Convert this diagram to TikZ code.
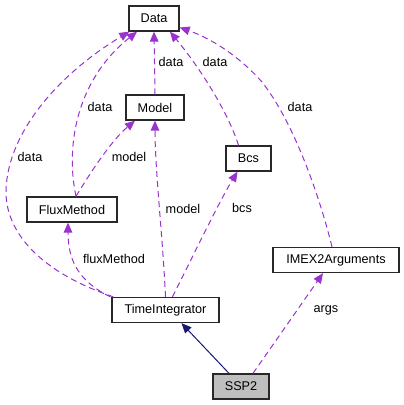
\documentclass[tikz,border=0pt]{standalone}
\usepackage{fontspec}
\setmainfont{Liberation Sans}
\usetikzlibrary{arrows.meta,calc}

\definecolor{relpurple}{RGB}{154,50,205}
\definecolor{inhnavy}{RGB}{25,25,112}

\tikzset{every picture/.style={line width=0.75pt}}
\tikzset{
  cls/.style={draw={rgb,255:red,40;green,40;blue,40}, fill=white, line width=1pt, inner sep=0pt,
    minimum height=18.75pt, font=\fontsize{9.5}{11}\selectfont},
  rel/.style={draw=relpurple, line width=0.75pt, dash pattern=on 4.5pt off 3pt,
    -{Triangle[length=7.5pt,width=6.5pt]}},
  inh/.style={draw=inhnavy, line width=0.75pt,
    -{Triangle[length=7.5pt,width=6.5pt]}},
  lbl/.style={inner sep=0pt, font=\fontsize{9.5}{11}\selectfont}
}

\begin{document}
\begin{tikzpicture}[x=0.75pt,y=0.75pt,yscale=-1,xscale=1]
\useasboundingbox (0,0) rectangle (404,405);

% Classes
\node [cls, minimum width=37.5pt] (data) at (154,18.5) {Data};
\node [cls, minimum width=43.5pt] (model) at (155,107.5) {Model};
\node [cls, minimum width=33.75pt] (bcs) at (248.5,158.5) {Bcs};
\node [cls, minimum width=67.5pt] (flux) at (72,209.5) {FluxMethod};
\node [cls, minimum width=80.25pt] (ti) at (165.5,310) {TimeIntegrator};
\node [cls, minimum width=94.5pt] (imex) at (336,260) {IMEX2Arguments};
\node [cls, minimum width=42pt, fill={rgb,255:red,191;green,191;blue,191}] (ssp) at (241,386.5) {SSP2};

% Model -> Data
\draw [rel] (model.north) -- (data.south);
% Bcs -> Data
\draw [rel] ($(bcs.north)+(-10,0)$) .. controls (228,112) and (200,68) .. ($(data.south)+(16,0)$);
% IMEX2Arguments -> Data
\draw [rel] ($(imex.north)+(-4,0)$) .. controls (318,190) and (292,120) .. (262,82)
  .. controls (238,55) and (210,38) .. ($(data.east)+(0,9)$);
% FluxMethod -> Data
\draw [rel] ($(flux.north)+(4,0)$) .. controls (66,150) and (74,82) .. ($(data.south)+(-17,0)$);
% TimeIntegrator -> Data
\draw [rel] ($(ti.north west)+(2,0)$) .. controls (40,272) and (5,232) .. (6,190)
  .. controls (8,130) and (62,72) .. ($(data.south west)+(1,0)$);
% FluxMethod -> Model
\draw [rel] ($(flux.north)+(4,0)$) .. controls (92,170) and (112,140) .. ($(model.south)+(-20,0)$);
% TimeIntegrator -> Model
\draw [rel] (ti.north) .. controls (163,240) and (155,170) .. (model.south);
% TimeIntegrator -> Bcs
\draw [rel] ($(ti.north)+(7,0)$) .. controls (192,258) and (220,200) .. ($(bcs.south)+(-11,0)$);
% TimeIntegrator -> FluxMethod
\draw [rel] ($(ti.north west)+(-1,0)$) .. controls (80,282) and (68,262) .. ($(flux.south)+(-4,0)$);
% SSP2 -> IMEX2Arguments
\draw [rel] ($(ssp.north)+(12,0)$) -- ($(imex.south)+(-13,0)$);
% SSP2 -> TimeIntegrator
\draw [inh] ($(ssp.north)+(-12,0)$) -- ($(ti.south)+(16,0)$);

% Text Node
\node [lbl] (l1) at (171,62) {data};
\node [lbl] (l2) at (215,62) {data};
\node [lbl] (l3) at (300,107) {data};
\node [lbl] (l4) at (100,107) {data};
\node [lbl] (l5) at (30,157) {data};
\node [lbl] (l6) at (129,157) {model};
\node [lbl] (l7) at (183,209) {model};
\node [lbl] (l8) at (242,208) {bcs};
\node [lbl] (l9) at (114,259) {fluxMethod};
\node [lbl] (l10) at (326,310) {args};

\end{tikzpicture}
\end{document}
